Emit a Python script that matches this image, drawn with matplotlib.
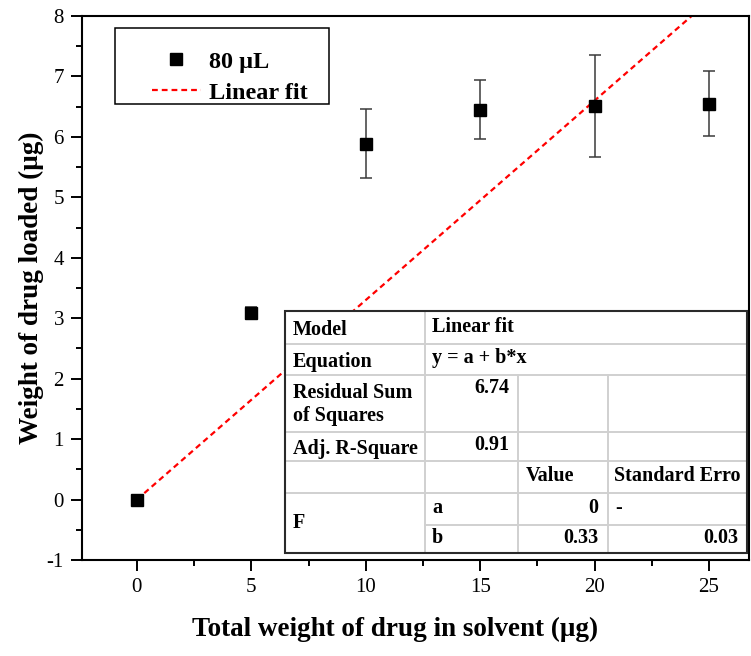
import matplotlib
matplotlib.use("Agg")
import matplotlib.pyplot as plt
from matplotlib.lines import Line2D
from matplotlib.patches import Rectangle
from matplotlib.legend_handler import HandlerLine2D

plt.rcParams['font.family'] = ['Liberation Serif', 'DejaVu Serif']
plt.rcParams['axes.unicode_minus'] = False

# Loading data: total drug in solvent vs. drug loaded (80 uL)
total_drug = [0, 5, 10, 15, 20, 25]
drug_loaded = [0.0, 3.08, 5.89, 6.45, 6.51, 6.55]
loaded_err = [0.06, 0.10, 0.57, 0.49, 0.85, 0.54]

# Linear fit parameters y = a + b*x
fit_a = 0.0
fit_b = 0.33

series_label = "80 \u03bcL"
fit_label = "Linear fit"

x_ticks = [0, 5, 10, 15, 20, 25]
y_ticks = [-1, 0, 1, 2, 3, 4, 5, 6, 7, 8]

# Fit summary table contents
table_model = ["Model", "Linear fit"]
table_equation = ["Equation", "y = a + b*x"]
table_rss = ["Residual Sum\nof Squares", "6.74"]
table_r2 = ["Adj. R-Square", "0.91"]
table_header = ["Value", "Standard Erro"]
table_params = [["a", "0", "-"], ["b", "0.33", "0.03"]]
table_group = "F"

W, H = 751, 656
fig = plt.figure(figsize=(W / 100, H / 100), dpi=100)
ax = fig.add_axes([82 / W, 1 - 560 / H, (749 - 82) / W, (560 - 16) / H])

ax.errorbar(total_drug, drug_loaded, yerr=loaded_err, fmt='s', color='black',
            ecolor='#3a3a3a', elinewidth=1.1, capsize=4.5, capthick=1.1,
            markersize=8, zorder=3)

fit_style = dict(color='red', linestyle=(0, (2.6, 1.8)), linewidth=1.6)
x_fit = [0, 27]
y_fit = [fit_a + fit_b * v for v in x_fit]
ax.plot(x_fit, y_fit, zorder=2, **fit_style)

ax.set_xticks(x_ticks)
ax.set_yticks(y_ticks)
ax.set_xticks([v + 2.5 for v in [-5] + x_ticks], minor=True)
ax.set_yticks([v + 0.5 for v in y_ticks[:-1]], minor=True)
ax.set_xlim(-2.4, 26.75)
ax.set_ylim(-1, 8)
ax.tick_params(which='major', direction='out', length=8, width=1.4, labelsize=15, pad=5,
               top=False, right=False)
ax.tick_params(which='minor', direction='out', length=4.5, width=1.4, top=False, right=False)
for s in ax.spines.values():
    s.set_linewidth(1.5)

ax.set_xlabel("Total weight of drug in solvent (\u03bcg)", fontsize=19.5, fontweight='bold')
ax.xaxis.set_label_coords((395 - 82) / 667, -0.105)
ax.set_ylabel("Weight of drug loaded (\u03bcg)", fontsize=19.5, fontweight='bold', labelpad=2)


class IndentedHandler(HandlerLine2D):
    """Line/marker handle that leaves a blank lead-in before the sample."""

    def __init__(self, lead, **kw):
        super().__init__(**kw)
        self.lead = lead

    def get_xdata(self, legend, xdescent, ydescent, width, height, fontsize):
        x0 = -xdescent + self.lead * fontsize
        x1 = -xdescent + width
        return [x0, x1], [0.5 * (x0 + x1)]


h_pts = Line2D([], [], marker='s', color='black', linestyle='none', markersize=8)
h_fit = Line2D([], [], **fit_style)
leg = ax.legend([h_pts, h_fit], [series_label, fit_label], loc='upper left',
                bbox_to_anchor=(33 / 667, 0.4, 214 / 667, 532 / 544 - 0.4), mode='expand',
                borderaxespad=0, frameon=True, fancybox=False, edgecolor='black',
                framealpha=1, prop={'weight': 'bold', 'size': 17.5},
                handlelength=3.5, handletextpad=0.35, borderpad=0.03, labelspacing=0.37,
                title=' ', title_fontsize=11,
                handler_map={h_pts: IndentedHandler(1.5, numpoints=1),
                             h_fit: IndentedHandler(1.5)})
leg.get_frame().set_linewidth(1.1)

# Fit summary table, laid out in pixel coordinates on the figure
cols = [285, 425, 518, 608, 747]
rows = [311, 344, 375, 432, 461, 493, 525, 553]
FS = 14.5


def fx(px):
    return px / W


def fy(py):
    return 1 - py / H


def hline(x0, x1, y, color='#d0d0d0', lw=1.4):
    fig.add_artist(Line2D([fx(x0), fx(x1)], [fy(y), fy(y)], color=color, linewidth=lw,
                          transform=fig.transFigure, zorder=5))


def vline(x, y0, y1, color='#d0d0d0', lw=1.4):
    fig.add_artist(Line2D([fx(x), fx(x)], [fy(y0), fy(y1)], color=color, linewidth=lw,
                          transform=fig.transFigure, zorder=5))


def cell_text(s, x, y, ha='left', va='baseline'):
    fig.text(fx(x), fy(y), s, ha=ha, va=va, fontsize=FS, fontweight='bold',
             linespacing=1.15, zorder=6)


def mid(i):
    return 0.5 * (rows[i] + rows[i + 1])


fig.add_artist(Rectangle((fx(cols[0]), fy(rows[-1])), fx(cols[-1]) - fx(cols[0]),
                         fy(rows[0]) - fy(rows[-1]), transform=fig.transFigure,
                         facecolor='white', edgecolor='none', zorder=4))

for r in rows[1:6]:
    hline(cols[0], cols[-1], r)
hline(cols[1], cols[-1], rows[6])
vline(cols[1], rows[0], rows[-1])
vline(cols[2], rows[2], rows[-1])
vline(cols[3], rows[2], rows[-1])

fig.add_artist(Rectangle((fx(cols[0]), fy(rows[-1])), fx(cols[-1]) - fx(cols[0]),
                         fy(rows[0]) - fy(rows[-1]), transform=fig.transFigure,
                         facecolor='none', edgecolor='#2a2a2a', linewidth=1.5, zorder=7))

pl, pr = 8, 9
lab_off, val_off = 7.5, 4
cell_text(table_model[0], cols[0] + pl, mid(0) + lab_off)
cell_text(table_model[1], cols[1] + 7, mid(0) + val_off)
cell_text(table_equation[0], cols[0] + pl, mid(1) + lab_off)
cell_text(table_equation[1], cols[1] + 7, mid(1) + val_off)
cell_text(table_rss[0], cols[0] + pl, mid(2) + 1, va='center')
cell_text(table_rss[1], cols[2] - pr, rows[2] + 18, ha='right')
cell_text(table_r2[0], cols[0] + pl, mid(3) + lab_off)
cell_text(table_r2[1], cols[2] - pr, mid(3) + val_off, ha='right')
cell_text(table_header[0], cols[2] + pl, mid(4) + val_off)
cell_text(table_header[1], cols[3] + 6, mid(4) + val_off)
for i, (name, val, err) in enumerate(table_params):
    base = mid(5 + i) + val_off
    cell_text(name, cols[1] + 7, base)
    cell_text(val, cols[3] - 10, base, ha='right')
    if err == "-":
        cell_text(err, cols[3] + 7, base)
    else:
        cell_text(err, cols[4] - pr, base, ha='right')
cell_text(table_group, cols[0] + pl, 0.5 * (rows[5] + rows[7]) + 5)

fig.savefig("out.png", dpi=100)
